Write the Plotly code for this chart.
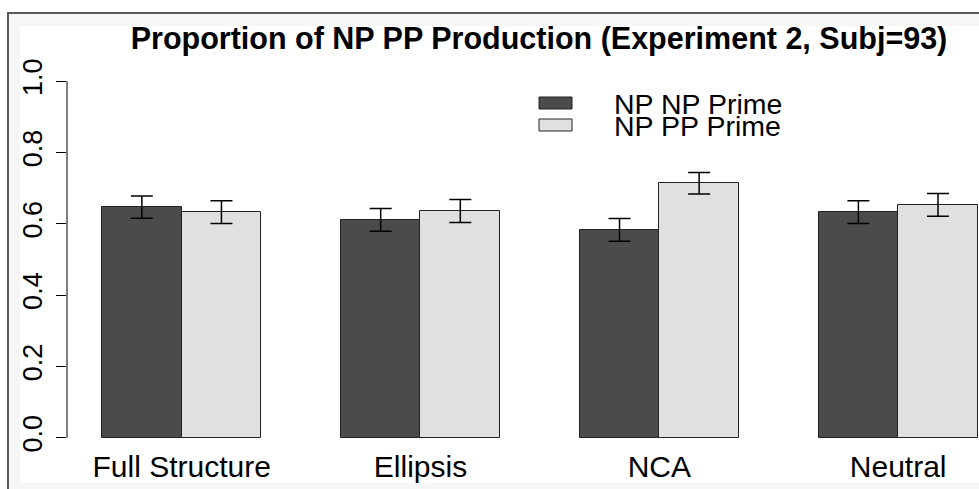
import plotly.graph_objects as go

# ---- data ----
categories = ["Full Structure", "Ellipsis", "NCA", "Neutral"]
series_names = ["NP NP Prime", "NP PP Prime"]
means_np = [0.647, 0.611, 0.583, 0.633]
means_pp = [0.633, 0.636, 0.714, 0.653]
se_np = [0.031, 0.032, 0.032, 0.032]
se_pp = [0.032, 0.032, 0.030, 0.032]
ytick_vals = [0.0, 0.2, 0.4, 0.6, 0.8, 1.0]
ytick_text = ["0.0", "0.2", "0.4", "0.6", "0.8", "1.0"]
title_text = "Proportion of NP PP Production (Experiment 2, Subj=93)"

# R barplot(beside=TRUE) positions: space=c(0,1), width=1
group_start = [1 + 3 * i for i in range(len(categories))]
x_np = [s + 0.5 for s in group_start]
x_pp = [s + 1.5 for s in group_start]
x_cat = [s + 1.0 for s in group_start]

DARK = "#4b4b4b"
LIGHT = "#e0e0e0"
FONT = "Liberation Sans, Arial, sans-serif"

W, H = 979, 489
L, R, T, B = 67, 0, 67, 37
PW, PH = W - L - R, H - T - B


def px(x):
    return (x - L) / PW


def py(y):
    return (H - B - y) / PH


fig = go.Figure()
for xs, ys, es, col in [(x_np, means_np, se_np, DARK), (x_pp, means_pp, se_pp, LIGHT)]:
    fig.add_trace(go.Bar(
        x=xs, y=ys, width=1.0,
        marker=dict(color=col, line=dict(color="#222222", width=1)),
        error_y=dict(type="data", array=es, visible=True, color="black",
                     thickness=1.5, width=11),
        showlegend=False,
    ))

shapes = []
# outer frame (screenshot border)
shapes.append(dict(type="rect", xref="paper", yref="paper",
                   x0=px(8), x1=px(990), y0=py(13), y1=py(500),
                   fillcolor="#f6f6f6", line=dict(color="#5a5a5a", width=2), layer="below"))
shapes.append(dict(type="rect", xref="paper", yref="paper",
                   x0=px(20), x1=px(990), y0=py(26), y1=py(483),
                   fillcolor="white", line=dict(width=0), layer="below"))
# R style y axis line (only from 0 to 1)
shapes.append(dict(type="line", xref="paper", yref="y",
                   x0=0, x1=0, y0=ytick_vals[0], y1=ytick_vals[-1],
                   line=dict(color="black", width=1)))

# legend boxes
for i, col in enumerate([DARK, LIGHT]):
    yc = 103 + 22 * i
    shapes.append(dict(type="rect", xref="paper", yref="paper",
                       x0=px(539), x1=px(572), y0=py(yc - 6), y1=py(yc + 6),
                       fillcolor=col, line=dict(color="#222222", width=1)))

annotations = []
for i, name in enumerate(series_names):
    yc = 104 + 22 * i
    annotations.append(dict(text=name, xref="paper", yref="paper",
                            x=px(612), y=py(yc), xanchor="left", yanchor="middle",
                            showarrow=False, font=dict(family=FONT, size=28.5, color="black")))

fig.update_layout(
    template="none",
    width=W, height=H,
    margin=dict(l=L, r=R, t=T, b=B, pad=0),
    paper_bgcolor="white", plot_bgcolor="rgba(0,0,0,0)",
    barmode="overlay",
    bargap=0,
    showlegend=False,
    title=dict(text=title_text, xref="container", yref="container",
               x=539 / W, y=1 - 38 / H, xanchor="center", yanchor="middle",
               font=dict(family=FONT, size=30.5, color="black", weight="bold")),
    xaxis=dict(range=[0.56, 12.015], tickvals=x_cat, ticktext=categories,
               showgrid=False, zeroline=False, showline=False, ticks="",
               ticklabelstandoff=-6,
               tickfont=dict(family=FONT, size=30, color="black"), automargin=False),
    yaxis=dict(range=[-0.04, 1.04], tickvals=ytick_vals, ticktext=ytick_text,
               tickangle=-90, ticks="outside", ticklen=10, tickcolor="black", tickwidth=1,
               ticklabelstandoff=3,
               showgrid=False, zeroline=False, showline=False,
               tickfont=dict(family=FONT, size=27, color="black"), automargin=False),
    shapes=shapes,
    annotations=annotations,
)

fig.write_html("out.html", config={"displayModeBar": False},
               post_script="document.body.style.margin='0';document.body.style.padding='0';")
